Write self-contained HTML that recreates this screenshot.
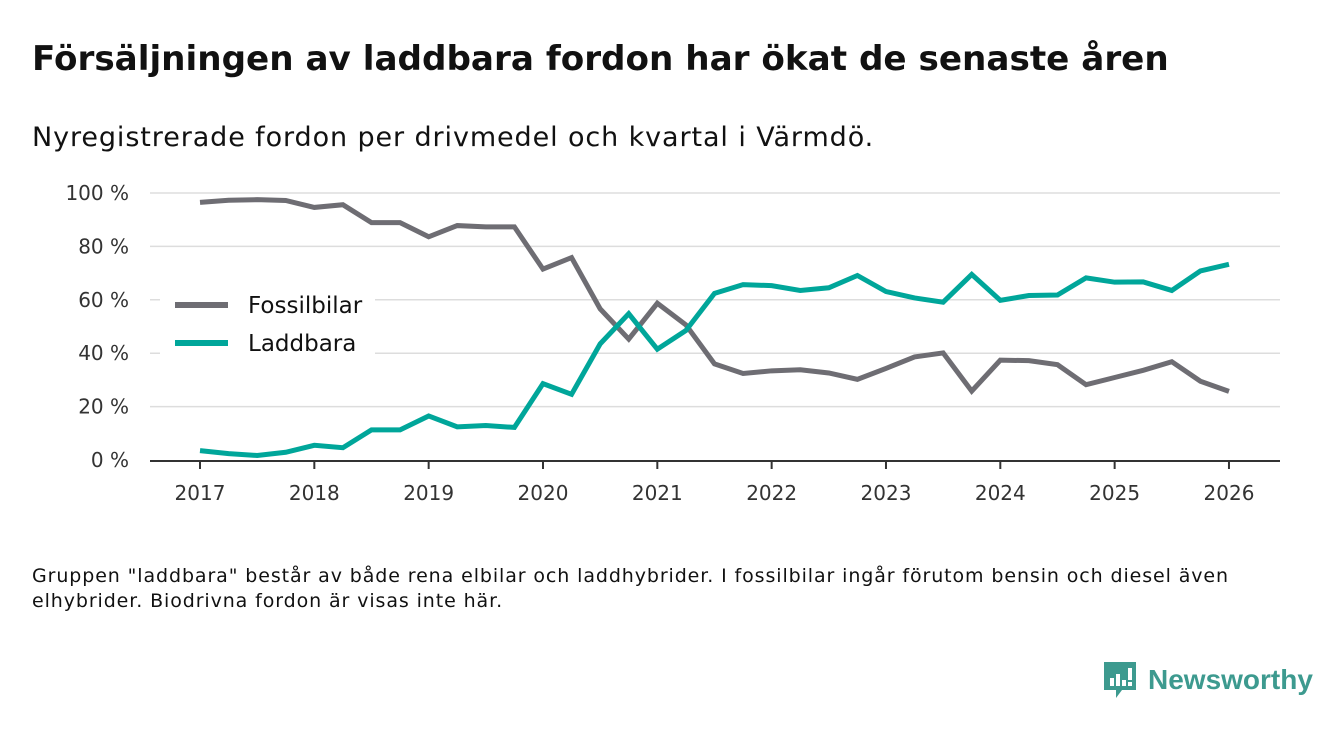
<!DOCTYPE html>
<html><head><meta charset="utf-8"><style>
body{margin:0;width:1340px;height:733px;background:#fff;font-family:"DejaVu Sans","Liberation Sans",sans-serif;overflow:hidden;position:relative}
.t{position:absolute;left:32px;top:39px;font-size:34.2px;font-weight:bold;color:#111;white-space:nowrap}
.s{position:absolute;left:32px;top:122px;font-size:27px;letter-spacing:0.9px;color:#111;white-space:nowrap}
.n{position:absolute;left:32px;top:564px;font-size:19px;letter-spacing:0.9px;line-height:25px;color:#111;width:1250px}
.logo{position:absolute;left:1102px;top:660px;display:flex;align-items:center}
.logo span{font-family:"Liberation Sans",sans-serif;font-size:28px;font-weight:bold;color:#3d9a8f;margin-left:10px}
</style></head><body>
<div class="t">Försäljningen av laddbara fordon har ökat de senaste åren</div>
<div class="s">Nyregistrerade fordon per drivmedel och kvartal i Värmdö.</div>
<svg id="c" width="1340" height="733" style="position:absolute;left:0;top:0"></svg>
<div class="n">Gruppen "laddbara" består av både rena elbilar och laddhybrider. I fossilbilar ingår förutom bensin och diesel även elhybrider. Biodrivna fordon är visas inte här.</div>
<div class="logo">
<svg width="36" height="40" viewBox="0 0 36 40"><path d="M2 2h32v28H20l-6 8v-8H2z" fill="#3d9a8f"/><rect x="8" y="18" width="4" height="8" fill="#fff"/><rect x="14" y="14" width="4" height="12" fill="#fff"/><rect x="20" y="20" width="4" height="6" fill="#fff"/><rect x="26" y="8" width="4" height="12" fill="#fff"/><rect x="26" y="22" width="4" height="4" fill="#fff"/></svg>
<span>Newsworthy</span></div>
<script>
const years=[2017,2018,2019,2020,2021,2022,2023,2024,2025,2026];
const yTicks=[0,20,40,60,80,100];
const fossil=[96.5,97.3,97.5,97.2,94.6,95.6,88.9,88.9,83.6,87.8,87.3,87.3,71.5,75.8,56.6,45.3,58.7,50.6,36,32.4,33.4,33.8,32.6,30.2,34.3,38.6,40.1,25.8,37.4,37.2,35.7,28.2,30.9,33.6,36.8,29.5,25.7];
const laddbara=[3.5,2.4,1.7,2.9,5.5,4.6,11.3,11.3,16.5,12.4,12.9,12.2,28.6,24.6,43.5,54.8,41.5,48.5,62.4,65.7,65.3,63.5,64.5,69.1,63.1,60.7,59.1,69.5,59.8,61.6,61.8,68.2,66.6,66.7,63.5,70.8,73.3];
const svg=document.getElementById('c'),NS='http://www.w3.org/2000/svg';
const X=t=>200+(t-2017)*114.33, Y=v=>460-v*2.67;
function mk(tag,a){const e=document.createElementNS(NS,tag);for(const k in a)e.setAttribute(k,a[k]);svg.appendChild(e);return e;}
yTicks.forEach(v=>{
 if(v>0){const g=mk('line',{x1:150,x2:1280,y1:Y(v),y2:Y(v),stroke:'#ddd','stroke-width':1.5});
 
 }
 const t=mk('text',{x:129,y:Y(v)+7,'text-anchor':'end','font-size':20,fill:'#333'});t.textContent=v+' %';
 
 
});
const ax=mk('line',{x1:150,x2:1280,y1:461,y2:461,stroke:'#333','stroke-width':2});


years.forEach(y=>{
 mk('line',{x1:X(y),x2:X(y),y1:461,y2:469,stroke:'#333','stroke-width':2});
 const t=mk('text',{x:X(y),y:500,'text-anchor':'middle','font-size':20,fill:'#333'});t.textContent=y;
 
 
});
const lb=mk('rect',{x:160,y:282,width:215,height:82,fill:'#fff'});


function series(d,col,name){
 const p=mk('polyline',{points:d.map((v,i)=>X(2017+i/4)+','+Y(v)).join(' '),fill:'none',stroke:col,'stroke-width':5,'stroke-linejoin':'miter'});
 
 
}
series(fossil,'#6e6d73','fossilbilar');
series(laddbara,'#00a69a','laddbara');
[['Fossilbilar','#6e6d73',305],['Laddbara','#00a69a',343]].forEach(([n,c,y])=>{
 const l=mk('line',{x1:175,x2:228,y1:y,y2:y,stroke:c,'stroke-width':6});
 
 
 const t=mk('text',{x:248,y:y+8,'font-size':23,fill:'#111'});t.textContent=n;
 
 
});
</script>
</body></html>
